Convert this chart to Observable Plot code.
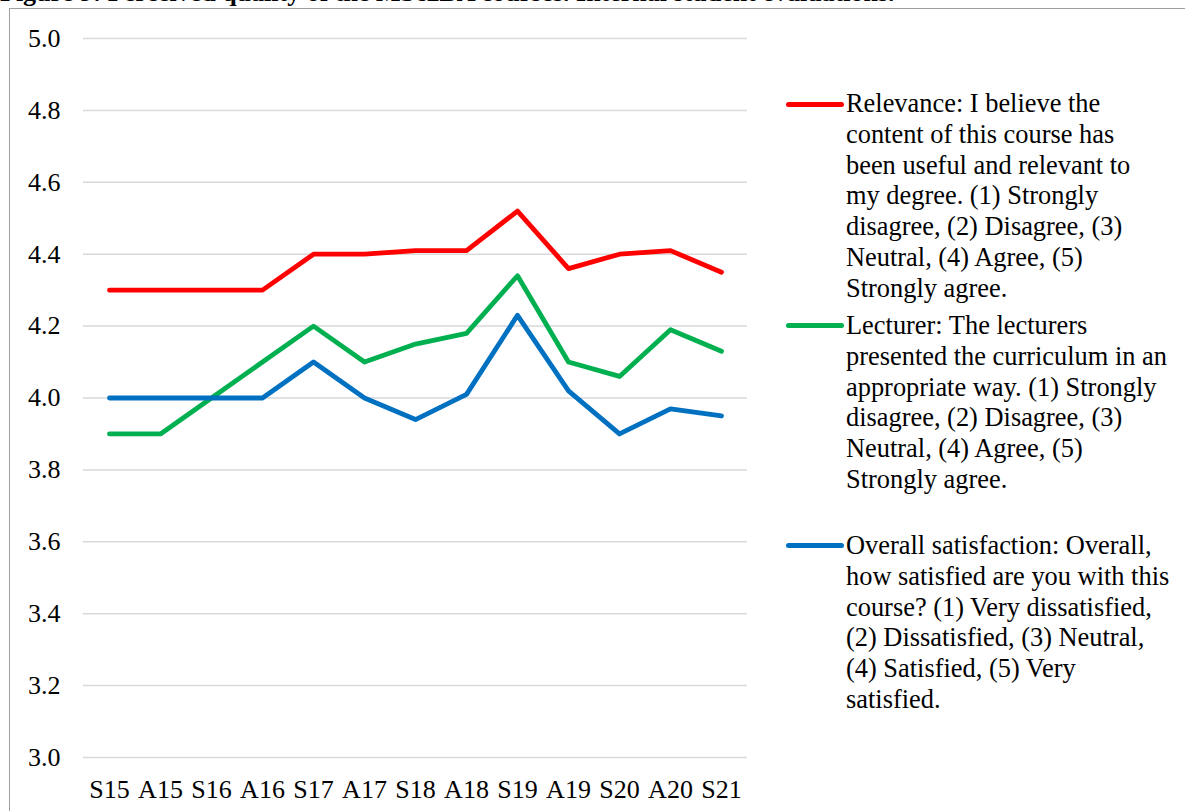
<!DOCTYPE html>
<html>
<head>
<meta charset="utf-8">
<script src="https://cdn.jsdelivr.net/npm/d3@7"></script>
<script src="https://cdn.jsdelivr.net/npm/@observablehq/plot@0.6"></script>
<style>
  html, body { margin: 0; padding: 0; background: #fff; }
  #wrap { position: relative; width: 1185px; height: 811px; overflow: hidden; background: #fff;
          font-family: "Liberation Serif", "Times New Roman", serif; color: #000; }
  #title { position: absolute; left: 0; top: -20px; font-size: 26px; line-height: 26px; font-weight: bold; white-space: nowrap; }
  #box { position: absolute; left: 9px; top: 8px; right: -10px; bottom: -10px;
         border-left: 1.5px solid #a0a0a0; border-top: 1.5px solid #a0a0a0; }
  #chart { position: absolute; left: 0; top: 0; }
  .sw { position: absolute; left: 786px; width: 58px; height: 5px; border-radius: 3px; }
  .lg { position: absolute; left: 846px; font-size: 26.4px; line-height: 30.8px; white-space: nowrap; }
</style>
</head>
<body>
<div id="wrap">
  <div id="title"></div>
  <div id="box"></div>
  <div id="chart"></div>
</div>
<script>
const titleText = "Figure 9: Perceived quality of the MSc2BA courses. Internal student evaluations.";
const categories = ["S15","A15","S16","A16","S17","A17","S18","A18","S19","A19","S20","A20","S21"];
const relevance = [4.30,4.30,4.30,4.30,4.40,4.40,4.41,4.41,4.52,4.36,4.40,4.41,4.35];
const lecturer  = [3.90,3.90,4.00,4.10,4.20,4.10,4.15,4.18,4.34,4.10,4.06,4.19,4.13];
const overall   = [4.00,4.00,4.00,4.00,4.10,4.00,3.94,4.01,4.23,4.02,3.90,3.97,3.95];
const yTicks = [3.0,3.2,3.4,3.6,3.8,4.0,4.2,4.4,4.6,4.8,5.0];
const seriesNames = ["Relevance","Lecturer","Overall satisfaction"];
const seriesColors = ["#ff0000","#00b050","#0070c0"];
const legendLines = [
  ["Relevance: I believe the","content of this course has","been useful and relevant to","my degree. (1) Strongly","disagree, (2) Disagree, (3)","Neutral, (4) Agree, (5)","Strongly agree."],
  ["Lecturer: The lecturers","presented the curriculum in an","appropriate way. (1) Strongly","disagree, (2) Disagree, (3)","Neutral, (4) Agree, (5)","Strongly agree."],
  ["Overall satisfaction: Overall,","how satisfied are you with this","course? (1) Very dissatisfied,","(2) Dissatisfied, (3) Neutral,","(4) Satisfied, (5) Very","satisfied."]
];

document.getElementById("title").textContent = titleText;

const seriesValues = [relevance, lecturer, overall];
const rows = [];
seriesValues.forEach((vals, s) => vals.forEach((v, i) => rows.push({series: seriesNames[s], cat: categories[i], value: v})));

const serif = "'Liberation Serif', 'Times New Roman', serif";
const plot = Plot.plot({
  width: 760,
  height: 811,
  marginTop: 38,
  marginBottom: 54,
  marginLeft: 83,
  marginRight: 13,
  style: {fontSize: "26px", color: "#000", background: "transparent"},
  x: {type: "point", domain: categories, padding: 0.5},
  y: {domain: [3, 5]},
  color: {domain: seriesNames, range: seriesColors},
  marks: [
    Plot.ruleY(yTicks, {stroke: "#d9d9d9", strokeWidth: 1.5}),
    Plot.axisY({ticks: yTicks, tickFormat: d3.format(".1f"), tickSize: 0, tickPadding: 23, label: null, fontSize: 26}),
    Plot.axisX({tickSize: 0, tickPadding: 22, label: null, fontSize: 26}),
    Plot.lineY(rows, {x: "cat", y: "value", z: "series", stroke: "series", strokeWidth: 4.8,
                      strokeLinecap: "round", strokeLinejoin: "round"})
  ]
});
[plot, ...plot.querySelectorAll("g, text, tspan")].forEach(el => {
  el.removeAttribute("font-family");
  el.style.setProperty("font-family", serif, "important");
});
document.getElementById("chart").appendChild(plot);

// Legend (HTML)
const wrap = document.getElementById("wrap");
const swatchY = [104, 325, 545];
const textTop = [88, 310, 530];
legendLines.forEach((lines, k) => {
  const sw = document.createElement("div");
  sw.className = "sw";
  sw.style.top = (swatchY[k] - 2.5) + "px";
  sw.style.background = seriesColors[k];
  wrap.appendChild(sw);
  const t = document.createElement("div");
  t.className = "lg";
  t.style.top = textTop[k] + "px";
  t.innerHTML = lines.map(l => l.replace(/&/g,"&amp;").replace(/</g,"&lt;")).join("<br>");
  wrap.appendChild(t);
});
</script>
</body>
</html>
